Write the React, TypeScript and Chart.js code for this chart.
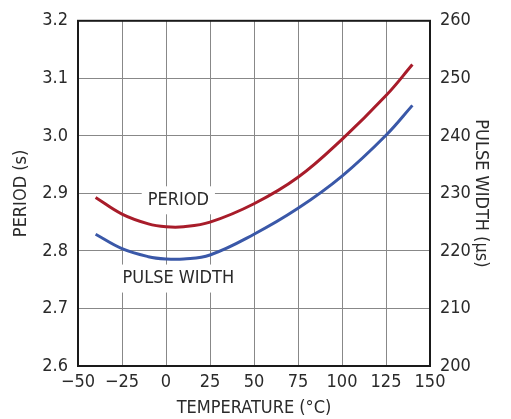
import { useEffect, useRef } from "react";
import { Chart, registerables } from "chart.js";

Chart.register(...registerables);

const temperatures = [-40, -25, -10, 0, 10, 25, 50, 75, 100, 125, 140];
const periodValues = [2.893, 2.864, 2.847, 2.842, 2.842, 2.85, 2.882, 2.928, 2.994, 3.07, 3.124];
const pulseWidthValues = [222.9, 220.4, 219.0, 218.6, 218.6, 219.3, 222.9, 227.4, 233.0, 240.1, 245.3];

const xTitle = "TEMPERATURE (°C)";
const yTitle = "PERIOD (s)";
const y2Title = "PULSE WIDTH (µs)";
const periodLabel = "PERIOD";
const pulseLabel = "PULSE WIDTH";

const FONT = "'Liberation Sans Narrow', 'Arial Narrow', 'DejaVu Sans Condensed', sans-serif";
const TEXT = "#2a2a2a";
const RED = "#a81c2a";
const BLUE = "#3a58a8";

const boxPlugin = {
  id: "boxAndLabels",
  beforeDatasetsDraw(chart: any) {
    const { ctx, chartArea, scales } = chart;
    ctx.save();
    ctx.font = `18px ${FONT}`;
    ctx.textAlign = "center";
    ctx.textBaseline = "middle";
    const labels = [
      { text: periodLabel, x: scales.x.getPixelForValue(7), y: scales.y.getPixelForValue(2.888) },
      { text: pulseLabel, x: scales.x.getPixelForValue(7), y: scales.y2.getPixelForValue(215.2) },
    ];
    for (const l of labels) {
      const w = ctx.measureText(l.text).width + 12;
      ctx.fillStyle = "#ffffff";
      ctx.fillRect(l.x - w / 2, l.y - 14, w, 28);
      ctx.fillStyle = TEXT;
      ctx.fillText(l.text, l.x, l.y);
    }
    ctx.strokeStyle = "#1a1a1a";
    ctx.lineWidth = 2;
    ctx.strokeRect(chartArea.left, chartArea.top, chartArea.right - chartArea.left, chartArea.bottom - chartArea.top);
    ctx.restore();
  },
};

export default function App() {
  const ref = useRef<HTMLCanvasElement>(null);
  useEffect(() => {
    if (!ref.current) return;
    const font = { family: FONT, size: 18 };
    const chart = new Chart(ref.current, {
      type: "line",
      data: {
        datasets: [
          {
            label: "Period",
            data: temperatures.map((t, i) => ({ x: t, y: periodValues[i] })),
            borderColor: RED,
            borderWidth: 3,
            pointRadius: 0,
            tension: 0.4,
            yAxisID: "y",
          },
          {
            label: "Pulse width",
            data: temperatures.map((t, i) => ({ x: t, y: pulseWidthValues[i] })),
            borderColor: BLUE,
            borderWidth: 3,
            pointRadius: 0,
            tension: 0.4,
            yAxisID: "y2",
          },
        ],
      },
      options: {
        responsive: false,
        animation: false,
        layout: { padding: { top: 14, left: 0, right: 0, bottom: 0 } },
        plugins: { legend: { display: false }, tooltip: { enabled: false } },
        scales: {
          x: {
            type: "linear",
            min: -50,
            max: 150,
            afterFit: (s: any) => { s.height = 53; },
            ticks: {
              stepSize: 25,
              font,
              color: TEXT,
              padding: 6,
              maxRotation: 0,
              callback: (v: any) => String(v).replace("-", "\u2212"),
            },
            grid: { color: "#888", lineWidth: 1, drawTicks: false },
            border: { display: false },
            title: { display: true, text: xTitle, font, color: TEXT, padding: { top: 0, bottom: 0 } },
          },
          y: {
            position: "left",
            min: 2.6,
            max: 3.2,
            afterFit: (s: any) => { s.width = 78; },
            ticks: { stepSize: 0.1, font, color: TEXT, padding: 10, callback: (v: any) => Number(v).toFixed(1) },
            grid: { color: "#888", lineWidth: 1, drawTicks: false },
            border: { display: false },
            title: { display: true, text: yTitle, font, color: TEXT, padding: { top: 11, bottom: 0 } },
          },
          y2: {
            position: "right",
            min: 200,
            max: 260,
            afterFit: (s: any) => { s.width = 81; },
            ticks: { stepSize: 10, font, color: TEXT, padding: 10 },
            grid: { display: false, drawTicks: false },
            border: { display: false },
            title: { display: true, text: y2Title, font, color: TEXT, padding: { top: 20, bottom: 0 } },
          },
        },
      },
      plugins: [boxPlugin],
    } as any);
    return () => chart.destroy();
  }, []);
  return (
    <div style={{ position: "absolute", left: 0, top: 0, width: 511, height: 419, background: "#fff" }}>
      <canvas ref={ref} width={511} height={419} style={{ display: "block" }} />
    </div>
  );
}
